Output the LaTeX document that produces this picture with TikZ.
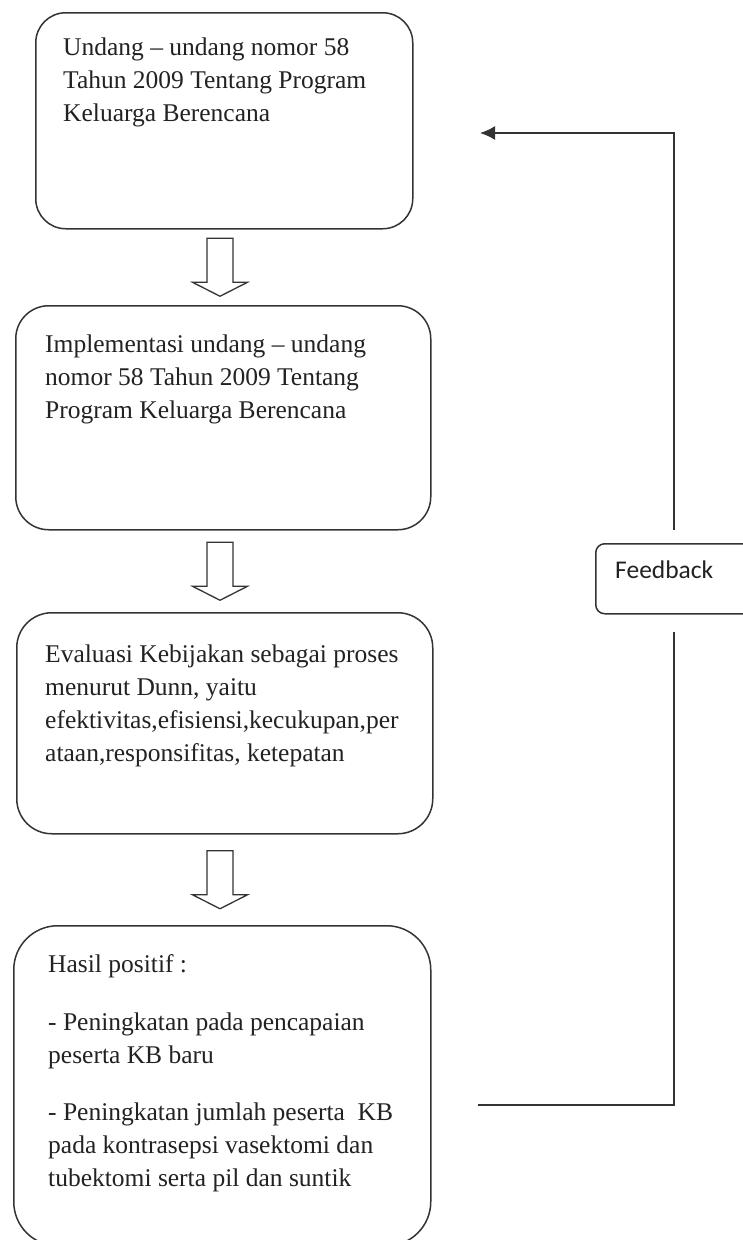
\documentclass[tikz,border=0pt]{standalone}
\usepackage{fontspec}
\setmainfont{Liberation Serif}
\newfontfamily\fbfont{Carlito}
\usetikzlibrary{arrows.meta,calc}

\definecolor{ink}{HTML}{222222}
\definecolor{rule}{HTML}{333333}

\tikzset{
  stagebox/.style={draw=rule, line width=1.5pt, rectangle, inner sep=0pt, anchor=north west},
  stagetext/.style={anchor=base west, inner sep=0pt, text=ink,
    font=\fontsize{25.5}{33}\selectfont},
  loopline/.style={draw=rule, line width=1.6pt},
  hollowline/.style={draw=rule, line width=1.3pt, line join=miter, fill=white},
  pics/downarrow/.style={code={
    \draw[hollowline] (-13,-29) -- (13,-29) -- (13,15) -- (27.5,15)
      -- (0,29) -- (-27.5,15) -- (-13,15) -- cycle;
  }}
}

\begin{document}
\begin{tikzpicture}[x=1pt,y=-1pt]
  \useasboundingbox (0,0) rectangle (743,1240);

  % stage boxes
  \node[stagebox, rounded corners=30pt, minimum width=377pt, minimum height=216pt] (b1) at (35,12) {};
  \node[stagebox, rounded corners=33pt, minimum width=415pt, minimum height=224pt] (b2) at (15,305) {};
  \node[stagebox, rounded corners=35pt, minimum width=416pt, minimum height=221pt] (b3) at (16,612) {};
  \node[stagebox, rounded corners=44pt, minimum width=417pt, minimum height=320pt] (b4) at (13,925) {};

  % stage texts
  \node[stagetext] (t1) at (63,55) {\parbox[t]{400pt}{\raggedright
    Undang – undang nomor 58\\
    Tahun 2009 Tentang Program\\
    Keluarga Berencana}};
  \node[stagetext] (t2) at (45,352) {\parbox[t]{400pt}{\raggedright
    Implementasi undang – undang\\
    nomor 58 Tahun 2009 Tentang\\
    Program Keluarga Berencana}};
  \node[stagetext] (t3) at (45,662) {\parbox[t]{420pt}{\raggedright
    Evaluasi Kebijakan sebagai proses\\
    menurut Dunn, yaitu\\
    efektivitas,efisiensi,kecukupan,per\\
    ataan,responsifitas, ketepatan}};
  \node[stagetext] (t4) at (48,972) {\parbox[t]{420pt}{\raggedright
    Hasil positif :\\[25pt]
    - Peningkatan pada pencapaian\\
    peserta KB baru\\[24pt]
    - Peningkatan jumlah peserta\ \ KB\\
    pada kontrasepsi vasektomi dan\\
    tubektomi serta pil dan suntik}};

  % hollow arrows between consecutive stages
  \path let \p1=($(b1.south)!0.5!(b2.north)$) in coordinate (m1) at (220,\y1);
  \path let \p1=($(b2.south)!0.5!(b3.north)$) in coordinate (m2) at (220,\y1);
  \path let \p1=($(b3.south)!0.5!(b4.north)$) in coordinate (m3) at (220,\y1);
  \pic at (m1) {downarrow};
  \pic at (m2) {downarrow};
  \pic at (m3) {downarrow};

  % feedback box
  \node[stagebox, rounded corners=9pt, minimum width=170pt, minimum height=70pt] (fb) at (595,543) {};
  \node[anchor=base west, inner sep=0pt, text=ink, font=\fbfont\fontsize{25.5}{30}\selectfont] (fbt) at (615,578) {Feedback};

  % feedback loop
  \coordinate (fbstart) at (478,1105);
  \coordinate (c1) at (674,1105);
  \coordinate (c2) at (674,632);
  \coordinate (c3) at (674,530);
  \coordinate (c4) at (674,133);
  \coordinate (fbend) at (480,133);
  \draw[loopline] (fbstart) -- (c1) -- (c2);
  \draw[loopline, -{Latex[length=15pt,width=14pt]}] (c3) -- (c4) -- (fbend);
\end{tikzpicture}
\end{document}
